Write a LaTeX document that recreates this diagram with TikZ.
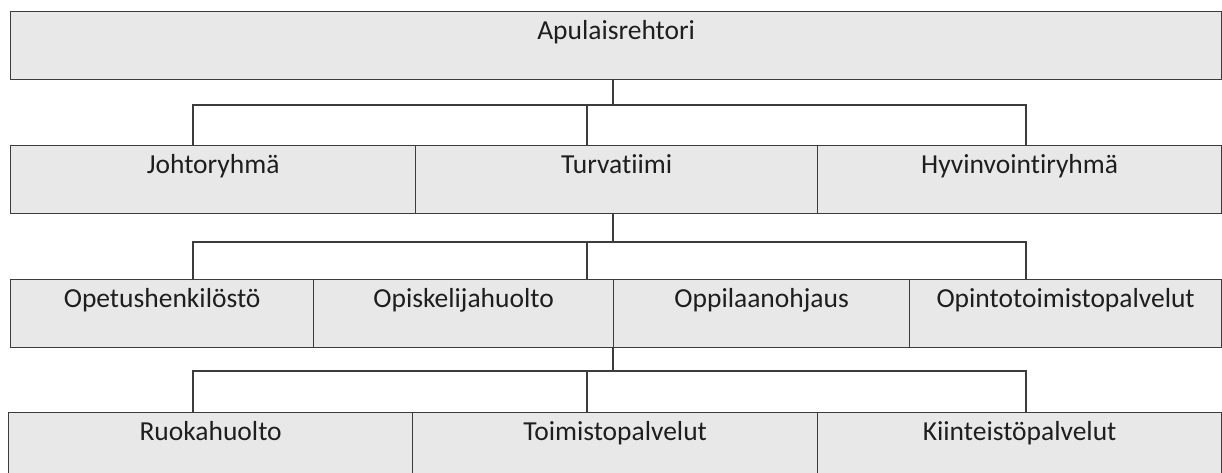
\documentclass[tikz,border=0pt]{standalone}
\usepackage{fontspec}
\setmainfont{Carlito}[Ligatures=NoCommon]
\definecolor{cellfill}{RGB}{232,232,232}
\definecolor{celldraw}{RGB}{60,60,60}
\definecolor{txt}{RGB}{30,30,30}
\tikzset{
  cell/.style={draw=celldraw, fill=cellfill, line width=1.3pt, anchor=north west,
    inner sep=0pt, text height=27.5pt, text depth=40.5pt, text=txt,
    font=\fontsize{27.5}{32}\selectfont},
  conn/.style={draw=celldraw, line width=1.3pt},
}
\begin{document}
\begin{tikzpicture}[x=1pt,y=-1pt]
\useasboundingbox (0,0) rectangle (1222,473);
\clip (0,0) rectangle (1222,473);
% level 1
\node[cell, minimum width=1211pt] (top) at (10,11) {Apulaisrehtori};
% level 2
\node[cell, minimum width=405pt] (joh) at (10,145) {Johtoryhmä};
\node[cell, minimum width=402pt] (tur) at (415,145) {Turvatiimi};
\node[cell, minimum width=404pt] (hyv) at (817,145) {Hyvinvointiryhmä};
% level 3
\node[cell, minimum width=303pt] (ope) at (10,279) {Opetushenkilöstö};
\node[cell, minimum width=300pt] (opi) at (313,279) {Opiskelijahuolto};
\node[cell, minimum width=296pt] (opp) at (613,279) {Oppilaanohjaus};
\node[cell, minimum width=312pt] (opt) at (909,279) {Opintotoimistopalvelut};
% level 4
\node[cell, minimum width=404pt] (ruo) at (8,412) {Ruokahuolto};
\node[cell, minimum width=405pt] (toi) at (412,412) {Toimistopalvelut};
\node[cell, minimum width=404pt] (kii) at (817,412) {Kiinteistöpalvelut};
% junctions
\coordinate (s1) at (613,105);
\coordinate (l1) at (193,105);
\coordinate (m1) at (587,105);
\coordinate (r1) at (1026,105);
\coordinate (s2) at (613,242);
\coordinate (l2) at (193,242);
\coordinate (m2) at (587,242);
\coordinate (r2) at (1026,242);
\coordinate (s3) at (613,371);
\coordinate (l3) at (193,371);
\coordinate (m3) at (587,371);
\coordinate (r3) at (1026,371);
% connectors level 1 -> 2
\draw[conn] (s1 |- top.south) -- (s1);
\draw[conn] (l1 |- joh.north) -- (l1) -- (r1) -- (r1 |- hyv.north);
\draw[conn] (m1) -- (m1 |- tur.north);
% connectors level 2 -> 3
\draw[conn] (s2 |- tur.south) -- (s2);
\draw[conn] (l2 |- ope.north) -- (l2) -- (r2) -- (r2 |- opt.north);
\draw[conn] (m2) -- (m2 |- opi.north);
% connectors level 3 -> 4
\draw[conn] (s3 |- opp.south) -- (s3);
\draw[conn] (l3 |- ruo.north) -- (l3) -- (r3) -- (r3 |- kii.north);
\draw[conn] (m3) -- (m3 |- toi.north);
\end{tikzpicture}
\end{document}
